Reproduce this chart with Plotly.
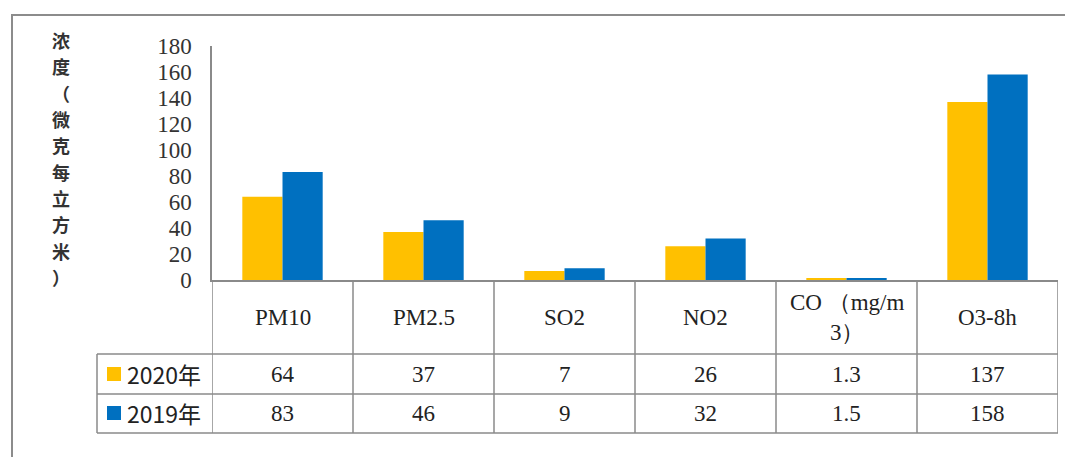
import plotly.graph_objects as go

categories = ["PM10", "PM2.5", "SO2", "NO2", "CO（mg/m3）", "O3-8h"]
header_labels = ["PM10", "PM2.5", "SO2", "NO2", "CO （mg/m<br>3）", "O3-8h"]
series_names = ["2020年", "2019年"]
values_2020 = [64, 37, 7, 26, 1.3, 137]
values_2019 = [83, 46, 9, 32, 1.5, 158]
y_title = "浓度（微克每立方米）"

VW, VH = 1073, 457   # viewport
OFF = 8              # page body margin
W, H = VW - OFF, VH - OFF
PL, PR, PT, PB = 212, 1058, 46, 280  # plot area in screen pixels
colors = ["#FFC000", "#0070C0"]
grid = "#8a8a8a"
txt = "#222222"


def px(x):
    return (x - PL) / (PR - PL)


def py(y):
    return (PB - y) / (PB - PT)


fig = go.Figure()
for name, vals, col in zip(series_names, [values_2020, values_2019], colors):
    fig.add_trace(go.Bar(x=list(range(len(categories))), y=vals, name=name,
                         marker=dict(color=col, line=dict(width=0)),
                         hoverinfo="skip", showlegend=False))

shapes = []
shapes.append(dict(type="rect", xref="paper", yref="paper",
                   x0=px(12), x1=px(1085), y0=py(475), y1=py(15),
                   line=dict(color="#8c8c8c", width=2), layer="below"))
row_y = [280, 354, 394, 433]
for y in row_y[1:]:
    shapes.append(dict(type="line", xref="paper", yref="paper",
                       x0=px(97), x1=px(PR), y0=py(y), y1=py(y),
                       line=dict(color=grid, width=1.5)))
for i in range(len(categories) + 1):
    shapes.append(dict(type="line", xref="x", yref="paper",
                       x0=i - 0.5, x1=i - 0.5, y0=py(280), y1=py(433),
                       line=dict(color=grid, width=1.5)))
shapes.append(dict(type="line", xref="paper", yref="paper",
                   x0=px(97), x1=px(97), y0=py(354), y1=py(433),
                   line=dict(color=grid, width=1.5)))

annotations = []
serif = dict(family="Liberation Serif, Times New Roman, serif", size=23, color=txt)
for i, lab in enumerate(header_labels):
    annotations.append(dict(xref="x", yref="paper", x=i, y=py(317), text=lab,
                            showarrow=False, font=serif, align="center",
                            yanchor="middle"))
row_mid = [374, 413]
for r, vals in enumerate([values_2020, values_2019]):
    for i, v in enumerate(vals):
        annotations.append(dict(xref="x", yref="paper", x=i, y=py(row_mid[r]),
                                text=str(v), showarrow=False, font=serif,
                                yanchor="middle"))
    annotations.append(dict(xref="paper", yref="paper", x=px(125), y=py(row_mid[r]),
                            text=series_names[r], showarrow=False, xanchor="left",
                            yanchor="middle",
                            font=dict(family="Noto Sans CJK SC", size=23, color=txt)))
    shapes.append(dict(type="rect", xref="paper", yref="paper",
                       x0=px(107), x1=px(121), y0=py(row_mid[r] + 7), y1=py(row_mid[r] - 7),
                       fillcolor=colors[r], line=dict(width=0)))

chars = list(y_title)
top_c, bot_c = 40, 277
for k, ch in enumerate(chars):
    yc = top_c + (bot_c - top_c) * k / (len(chars) - 1)
    annotations.append(dict(xref="paper", yref="paper", x=px(61), y=py(yc),
                            text="<b>" + ch + "</b>", showarrow=False,
                            xanchor="center", yanchor="middle",
                            font=dict(family="Noto Sans CJK SC", size=18, color="#333333")))

fig.update_layout(
    width=W, height=H,
    margin=dict(l=PL - OFF, r=VW - PR, t=PT - OFF, b=VH - PB, pad=0),
    paper_bgcolor="white", plot_bgcolor="white",
    barmode="group", bargap=0.43, bargroupgap=0,
    shapes=shapes, annotations=annotations,
    xaxis=dict(range=[-0.5, len(categories) - 0.5], showticklabels=False,
               showgrid=False, zeroline=False, showline=True,
               linecolor=grid, linewidth=1.5, ticks=""),
    yaxis=dict(range=[0, 180], dtick=20, showgrid=False, zeroline=False,
               showline=True, linecolor=grid, linewidth=1.5, ticks="",
               ticklabelstandoff=14,
               tickfont=dict(family="Liberation Serif, Times New Roman, serif",
                             size=23, color="#333333")),
)

fig.write_html("out.html")
